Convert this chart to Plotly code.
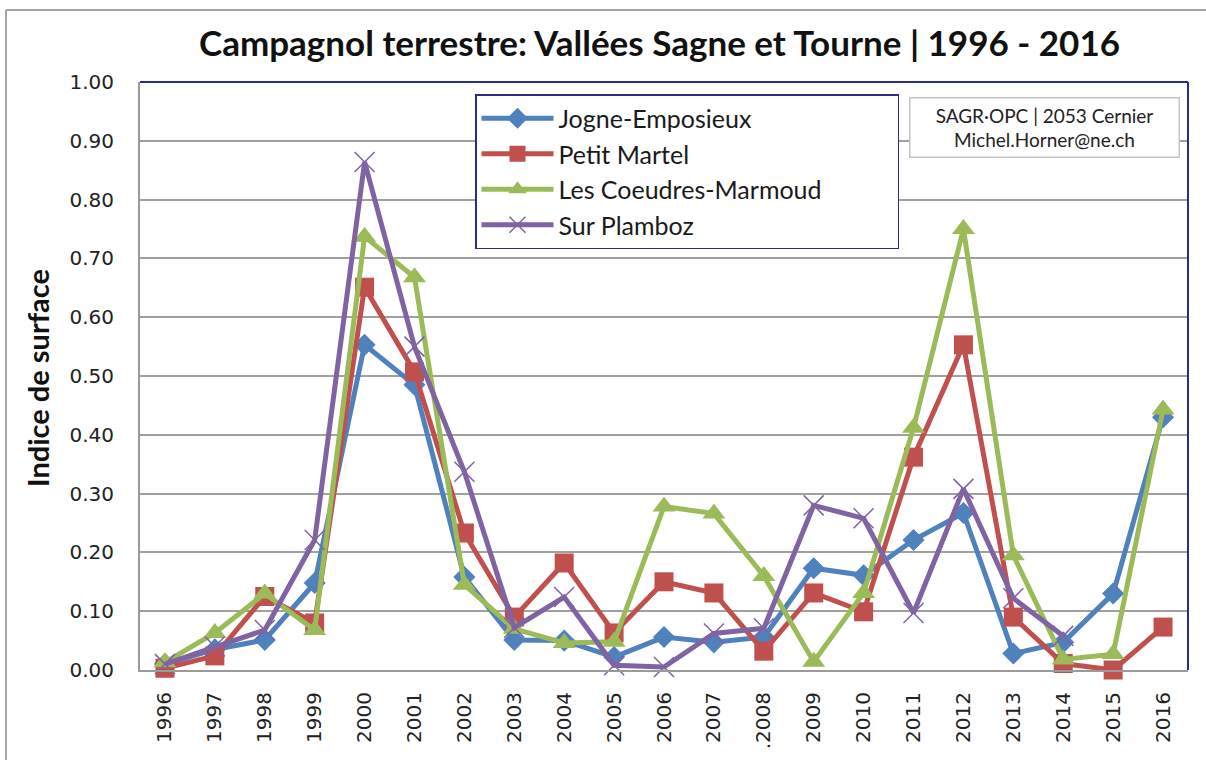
import plotly.graph_objects as go

years = ["1996", "1997", "1998", "1999", "2000", "2001", "2002", "2003", "2004", "2005",
         "2006", "2007", ".2008", "2009", "2010", "2011", "2012", "2013", "2014", "2015", "2016"]

jogne = [0.010, 0.035, 0.051, 0.148, 0.553, 0.485, 0.158, 0.051, 0.050, 0.022,
         0.056, 0.047, 0.056, 0.173, 0.161, 0.221, 0.267, 0.028, 0.047, 0.130, 0.430]
petit_martel = [0.003, 0.024, 0.125, 0.080, 0.651, 0.507, 0.233, 0.090, 0.182, 0.063,
                0.150, 0.131, 0.032, 0.131, 0.099, 0.362, 0.553, 0.090, 0.011, 0.000, 0.073]
coeudres = [0.013, 0.063, 0.130, 0.068, 0.737, 0.668, 0.145, 0.070, 0.046, 0.048,
            0.278, 0.266, 0.160, 0.014, 0.131, 0.412, 0.750, 0.195, 0.018, 0.027, 0.443]
plamboz = [0.010, 0.040, 0.068, 0.221, 0.864, 0.550, 0.337, 0.072, 0.124, 0.008,
           0.005, 0.062, 0.071, 0.280, 0.258, 0.097, 0.308, 0.122, 0.058, None, None]

series = [
    ("Jogne-Emposieux", jogne, "#4F81BD", "diamond", 17, None),
    ("Petit Martel", petit_martel, "#C0504D", "square", 19, None),
    ("Les Coeudres-Marmoud", coeudres, "#9BBB59", "triangle-up", 20, None),
    ("Sur Plamboz", plamboz, "#8064A2", "x-thin", 20, 1.5),
]

W, H = 1206, 760
L, R, T, B = 140, 1188, 82, 670

def px(x):
    return (x - L) / (R - L)

def py(y):
    return (B - y) / (B - T)

fig = go.Figure()
for name, vals, col, sym, size, lw in series:
    marker = dict(symbol=sym, size=size, color=col)
    if lw:
        marker["line"] = dict(width=lw, color=col)
    fig.add_trace(go.Scatter(
        x=years, y=vals, name=name + "\u00a0" * 11, mode="lines+markers",
        line=dict(color=col, width=5),
        marker=marker, cliponaxis=False, connectgaps=False,
    ))

fig.update_layout(
    width=W, height=H,
    margin=dict(l=L, r=W - R, t=T, b=H - B, autoexpand=False),
    paper_bgcolor="white", plot_bgcolor="white",
    font=dict(family="DejaVu Sans", color="#222222"),
    showlegend=True,
    legend=dict(
        x=px(475), y=py(94), xanchor="left", yanchor="top",
        bordercolor="#2B2B8C", borderwidth=1.5, bgcolor="white",
        font=dict(family="Lato", size=25, color="#1a1a1a"),
        tracegroupgap=0, itemwidth=72,
    ),
    xaxis=dict(
        type="category", range=[-0.5, len(years) - 0.5], tickangle=-90, showgrid=False,
        showline=True, linecolor="#9a9a9a", linewidth=2,
        ticks="", tickfont=dict(family="DejaVu Sans", size=20, color="#222222"),
        ticklabelstandoff=12,
    ),
    yaxis=dict(
        range=[0, 1.0], dtick=0.1, tickformat=".2f",
        showgrid=True, gridcolor="#a0a0a0", gridwidth=2,
        showline=True, linecolor="#9a9a9a", linewidth=2,
        ticks="", zeroline=False,
        tickfont=dict(family="DejaVu Sans", size=20, color="#222222"),
        ticklabelstandoff=20,
    ),
    shapes=[
        dict(type="line", xref="paper", yref="paper", x0=0, x1=1, y0=1, y1=1,
             line=dict(color="#2B2B8C", width=2)),
        dict(type="line", xref="paper", yref="paper", x0=1, x1=1, y0=0, y1=1,
             line=dict(color="#2B2B8C", width=2)),
        dict(type="line", xref="paper", yref="paper", x0=px(6), x1=px(1215), y0=py(10), y1=py(10),
             line=dict(color="#a6a6a6", width=2)),
        dict(type="line", xref="paper", yref="paper", x0=px(6), x1=px(6), y0=py(10), y1=py(770),
             line=dict(color="#a6a6a6", width=2)),
    ],
    annotations=[
        dict(text="<b>Campagnol terrestre: Vallées Sagne et Tourne | 1996 - 2016</b>",
             xref="paper", yref="paper", x=px(659), y=py(42), xanchor="center", yanchor="middle",
             showarrow=False, font=dict(family="Lato", size=35, color="#111111")),
        dict(text="<b>Indice de surface</b>", textangle=-90,
             xref="paper", yref="paper", x=px(37), y=py(378), xanchor="center", yanchor="middle",
             showarrow=False, font=dict(family="Lato", size=29, color="#111111")),
        dict(text="SAGR·OPC | 2053 Cernier<br>Michel.Horner@ne.ch",
             xref="paper", yref="paper", x=px(1044), y=py(127), xanchor="center", yanchor="middle",
             showarrow=False, width=266, height=56, align="center",
             bordercolor="#c4c4c4", borderwidth=1.5, bgcolor="white",
             font=dict(family="Lato", size=19, color="#222222")),
    ],
)

fig.write_html("out.html", config={"displayModeBar": False},
               post_script="document.body.style.margin='0px';")
